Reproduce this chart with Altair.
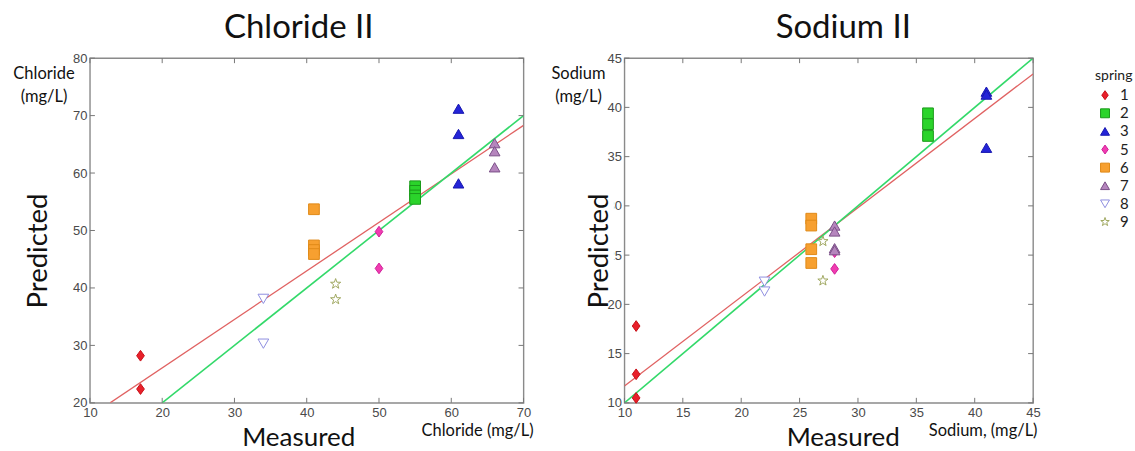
import altair as alt
import pandas as pd

# ---------------- data ----------------
springs = ["1", "2", "3", "5", "6", "7", "8", "9"]

cl_spring = ["1", "1", "2", "2", "2", "2", "3", "3", "3", "5", "5", "6", "6", "6", "6",
             "7", "7", "7", "8", "8", "9", "9"]
cl_measured = [17, 17, 55, 55, 55, 55, 61, 61, 61, 50, 50, 41, 41, 41, 41,
               66, 66, 66, 34, 34, 44, 44]
cl_predicted = [28.2, 22.4, 57.7, 56.9, 56.1, 55.5, 71.2, 66.8, 58.2, 49.8, 43.4,
                53.7, 47.4, 46.6, 45.9, 65.2, 63.8, 61.0, 38.1, 30.3, 40.7, 38.0]
cl_fit_x = [12.8, 70]
cl_fit_y = [20, 68.3]
cl_one_x = [20, 70]
cl_one_y = [20, 70]
cl_xticks = [10, 20, 30, 40, 50, 60, 70]
cl_yticks = [20, 30, 40, 50, 60, 70, 80]

na_spring = ["1", "1", "1", "2", "2", "2", "3", "3", "3", "5", "5", "6", "6", "6", "6",
             "7", "7", "7", "7", "8", "8", "9", "9"]
na_measured = [11, 11, 11, 36, 36, 36, 41, 41, 41, 28, 28, 26, 26, 26, 26,
               28, 28, 28, 28, 22, 22, 27, 27]
na_predicted = [17.8, 12.9, 10.5, 39.4, 38.3, 37.1, 41.6, 41.3, 35.9, 25.3, 23.6,
                28.7, 28.0, 25.6, 24.2, 28.0, 27.4, 25.7, 25.5, 22.3, 21.3, 26.4, 22.4]
na_fit_x = [10, 45]
na_fit_y = [11.7, 43.4]
na_one_x = [10, 45]
na_one_y = [10, 45]
na_xticks = [10, 15, 20, 25, 30, 35, 40, 45]
na_yticks = [10, 15, 20, 25, 30, 35, 40, 45]

# ---------------- styles ----------------
DIAMOND = "M0,-1L0.72,0L0,1L-0.72,0Z"
STAR = ("M0,-1L0.235,-0.324L0.951,-0.309L0.38,0.124L0.588,0.809L0,0.4"
        "L-0.588,0.809L-0.38,0.124L-0.951,-0.309L-0.235,-0.324Z")
shapes = [DIAMOND, "square", "triangle-up", DIAMOND, "square", "triangle-up", "triangle-down", STAR]
fills = ["#e8202a", "#2bd42b", "#2424d8", "#f03cb0", "#f7a030", "#b585bd", "#ffffff", "#ffffff"]
strokes = ["#c81018", "#1a9a1a", "#1818b0", "#d0209a", "#e08a18", "#7a4f88", "#8f8fe0", "#a0a860"]

TXT_FONT = "Lato"
NUM_FONT = "Liberation Sans"

shape_s = alt.Scale(domain=springs, range=shapes)
fill_s = alt.Scale(domain=springs, range=fills)
stroke_s = alt.Scale(domain=springs, range=strokes)


def txt(s, x, y, size, angle=0, color="#111", align="center"):
    return alt.Chart(pd.DataFrame({"t": [s]})).mark_text(
        font=TXT_FONT, fontSize=size, angle=angle, align=align,
        baseline="middle", color=color
    ).encode(x=alt.value(x), y=alt.value(y), text="t:N")


def anchor(x, y):
    return alt.Chart(pd.DataFrame({"a": [0]})).mark_rule(opacity=0).encode(
        x=alt.value(x), x2=alt.value(x + 0.5), y=alt.value(y), y2=alt.value(y + 0.5))


def panel(spring, meas, pred, fitx, fity, onex, oney, xdom, ydom, xt, yt, W, H,
          title, title_x, ylab, ylab_x, pred_x, xlab, xlab_x, meas_x,
          left_anchor, right_anchor, mask=None):
    xs = alt.Scale(domain=xdom, nice=False, zero=False)
    ys = alt.Scale(domain=ydom, nice=False, zero=False)
    df = pd.DataFrame({"measured": meas, "predicted": pred, "spring": spring})
    xaxis = alt.Axis(values=xt, ticks=False, domain=False, grid=False, title=None,
                     labelFont=NUM_FONT, labelFontSize=13, labelColor="#4a4a4a",
                     labelPadding=4, labelFlush=False)
    yaxis = alt.Axis(values=yt, ticks=False, domain=False, grid=False, title=None,
                     labelFont=NUM_FONT, labelFontSize=13, labelColor="#4a4a4a",
                     labelPadding=3)
    X = lambda f: alt.X(f, scale=xs, axis=xaxis)
    Y = lambda f: alt.Y(f, scale=ys, axis=yaxis)
    pts = alt.Chart(df).mark_point(filled=True, size=115, strokeWidth=1, opacity=1).encode(
        x=X("measured:Q"), y=Y("predicted:Q"),
        shape=alt.Shape("spring:N", scale=shape_s, legend=None),
        fill=alt.Fill("spring:N", scale=fill_s, legend=None),
        stroke=alt.Stroke("spring:N", scale=stroke_s, legend=None),
    )
    fit = alt.Chart(pd.DataFrame({"x": fitx, "y": fity})).mark_line(
        color="#e06262", strokeWidth=1.3, clip=True).encode(x=X("x:Q"), y=Y("y:Q"))
    one = alt.Chart(pd.DataFrame({"x": onex, "y": oney})).mark_line(
        color="#33d96a", strokeWidth=1.6, clip=True).encode(x=X("x:Q"), y=Y("y:Q"))
    xtd = pd.DataFrame({"v": xt})
    ytd = pd.DataFrame({"v": yt})
    tb = alt.Chart(xtd).mark_rule(color="#777", strokeWidth=1).encode(
        x=X("v:Q"), y=alt.value(H), y2=alt.value(H - 5))
    tt = alt.Chart(xtd).mark_rule(color="#777", strokeWidth=1).encode(
        x=X("v:Q"), y=alt.value(0), y2=alt.value(5))
    tl = alt.Chart(ytd).mark_rule(color="#777", strokeWidth=1).encode(
        y=Y("v:Q"), x=alt.value(0), x2=alt.value(5))
    tr = alt.Chart(ytd).mark_rule(color="#777", strokeWidth=1).encode(
        y=Y("v:Q"), x=alt.value(W), x2=alt.value(W - 5))
    layers = [fit, one, pts, tb, tt, tl, tr, anchor(left_anchor, -57), anchor(right_anchor, 0)]
    if mask is not None:
        layers.append(alt.Chart(pd.DataFrame({"a": [0]})).mark_rect(color="white").encode(
            x=alt.value(mask[0]), x2=alt.value(mask[1]), y=alt.value(mask[2]), y2=alt.value(mask[3])))
    layers += [
        txt(title, title_x, -30, 33),
        txt(ylab[0], ylab_x, 16, 16.5),
        txt(ylab[1], ylab_x, 39, 16.5),
        txt("Predicted", pred_x, 193, 27.5, angle=270),
        txt("Measured", meas_x, 380, 26),
        txt(xlab, xlab_x, 373, 16.5),
    ]
    return alt.layer(*layers).properties(width=W, height=H)


left = panel(cl_spring, cl_measured, cl_predicted, cl_fit_x, cl_fit_y, cl_one_x, cl_one_y,
             [10, 70], [20, 80], cl_xticks, cl_yticks, 434, 345,
             "Chloride II", 209, ["Chloride", "(mg/L)"], -46, -51,
             "Chloride (mg/L)", 388, 209, -89, 451)
right = panel(na_spring, na_measured, na_predicted, na_fit_x, na_fit_y, na_one_x, na_one_y,
              [10, 45], [10, 45], na_xticks, na_yticks, 409, 345,
              "Sodium II", 219, ["Sodium", "(mg/L)"], -46, -24,
              "Sodium, (mg/L)", 359, 219, -81, 430, mask=[-37, -10.5, 136, 234])

# ---------------- legend panel ----------------
leg_df = pd.DataFrame({"spring": springs})
LY = alt.Y("spring:N", scale=alt.Scale(domain=springs, range=[28, 173],
                                        paddingInner=0, paddingOuter=0.5), axis=None)
leg_pts = alt.Chart(leg_df).mark_point(filled=True, size=80, strokeWidth=1, opacity=1).encode(
    x=alt.value(6), y=LY,
    shape=alt.Shape("spring:N", scale=shape_s, legend=None),
    fill=alt.Fill("spring:N", scale=fill_s, legend=None),
    stroke=alt.Stroke("spring:N", scale=stroke_s, legend=None),
)
leg_txt = alt.Chart(leg_df).mark_text(font=TXT_FONT, fontSize=15, align="left",
                                      baseline="middle", color="#222").encode(
    x=alt.value(21), y=LY, text="spring:N")
legend_panel = alt.layer(
    leg_pts, leg_txt,
    txt("spring", -4, 18, 14, color="#222", align="left"),
    anchor(-43, -57),
).properties(width=36, height=180, view=alt.ViewBackground(strokeOpacity=0))

chart = alt.hconcat(left, right, legend_panel, spacing=0).properties(
    padding={"left": 0, "top": 0, "right": 0, "bottom": 0}, background="white"
).configure_view(stroke="#8a8a8a", strokeWidth=1.4)

chart.save("out.html", embed_options={"renderer": "svg", "actions": False})
